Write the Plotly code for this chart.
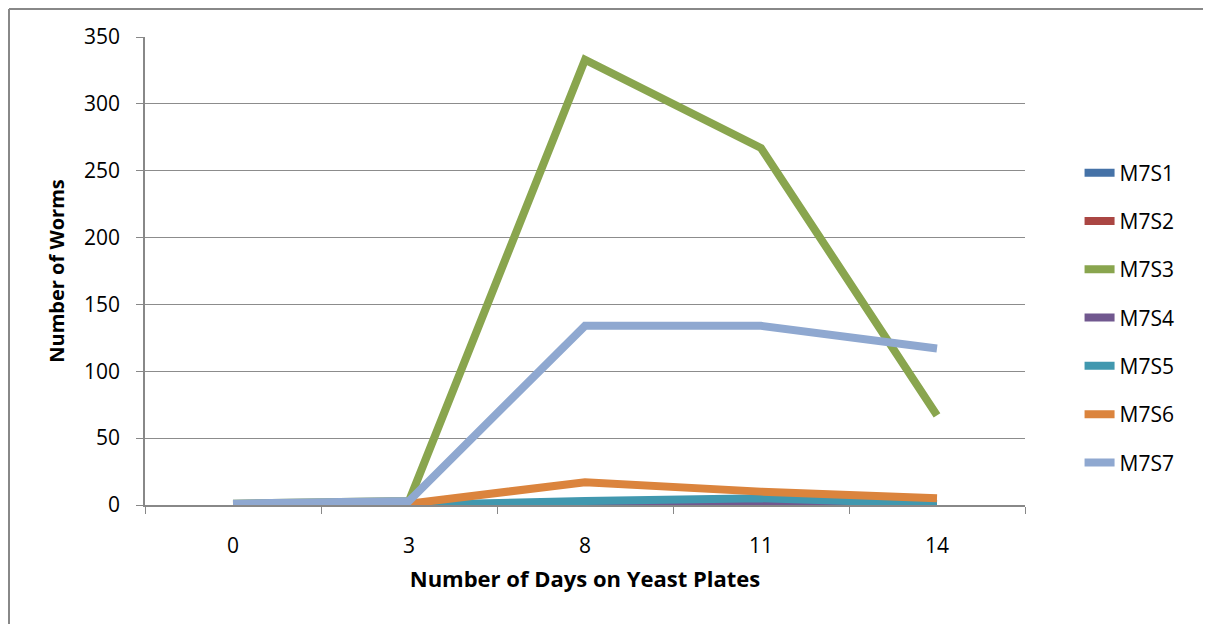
import plotly.graph_objects as go

days = ["0", "3", "8", "11", "14"]
series_names = ["M7S1", "M7S2", "M7S3", "M7S4", "M7S5", "M7S6", "M7S7"]
m7s1 = [0, 0, 0, 0, 0]
m7s2 = [0, 0, 0, 0, 0]
m7s3 = [1, 3, 333, 267, 67]
m7s4 = [0, 0, 0, 2, 1]
m7s5 = [0, 0, 3, 5, 1]
m7s6 = [0, 1, 17, 10, 5]
m7s7 = [1, 3, 134, 134, 117]
series_values = [m7s1, m7s2, m7s3, m7s4, m7s5, m7s6, m7s7]
colors = ["#4572A7", "#AA4643", "#89A54E", "#71588F", "#4198AF", "#DB843D", "#8FA8D0"]

FONT = "'Open Sans', Lato, sans-serif"

fig = go.Figure()
for name, vals, col in zip(series_names, series_values, colors):
    fig.add_trace(go.Scatter(
        x=days, y=vals, name=name, mode="lines",
        line=dict(color=col, width=8),
        legendgroup=name,
    ))

fig.update_layout(
    width=1203, height=616,
    margin=dict(l=137, r=186, t=29, b=119),
    paper_bgcolor="white", plot_bgcolor="white",
    font=dict(family=FONT, size=21, color="#000000"),
    showlegend=True,
    legend=dict(
        x=1.062, y=1 - (318 - 37) / 468, xanchor="left", yanchor="middle",
        font=dict(family=FONT, size=21, color="#000000"),
        tracegroupgap=18,
        bgcolor="rgba(0,0,0,0)",
    ),
    xaxis=dict(
        type="category", range=[-0.5, 4.5],
        tickson="boundaries", ticks="outside", ticklen=7, tickcolor="#888888",
        showline=True, linecolor="#888888", linewidth=1.5,
        showgrid=False, zeroline=False,
        ticklabelstandoff=21,
        title=dict(text="<b>Number of Days on Yeast Plates</b>", standoff=14,
                   font=dict(family=FONT, size=22)),
    ),
    yaxis=dict(
        range=[0, 350], tickvals=[0, 50, 100, 150, 200, 250, 300, 350],
        ticks="outside", ticklen=7, tickcolor="#888888",
        showline=True, linecolor="#888888", linewidth=1.5,
        showgrid=True, gridcolor="#8c8c8c", gridwidth=1.2,
        zeroline=False, ticklabelstandoff=12,
        title=dict(text="<b>Number of Worms</b>", standoff=14,
                   font=dict(family=FONT, size=20)),
    ),
)

# outer chart frame (only left and top edges fall inside the view)
fx0 = -136 / 880
fy1 = 1 + 28 / 468
fig.add_shape(type="line", xref="paper", yref="paper",
              x0=fx0, y0=-0.5, x1=fx0, y1=fy1,
              line=dict(color="#888888", width=2), layer="below")
fig.add_shape(type="line", xref="paper", yref="paper",
              x0=fx0, y0=fy1, x1=1.5, y1=fy1,
              line=dict(color="#888888", width=2), layer="below")

fig.write_html("out.html")
